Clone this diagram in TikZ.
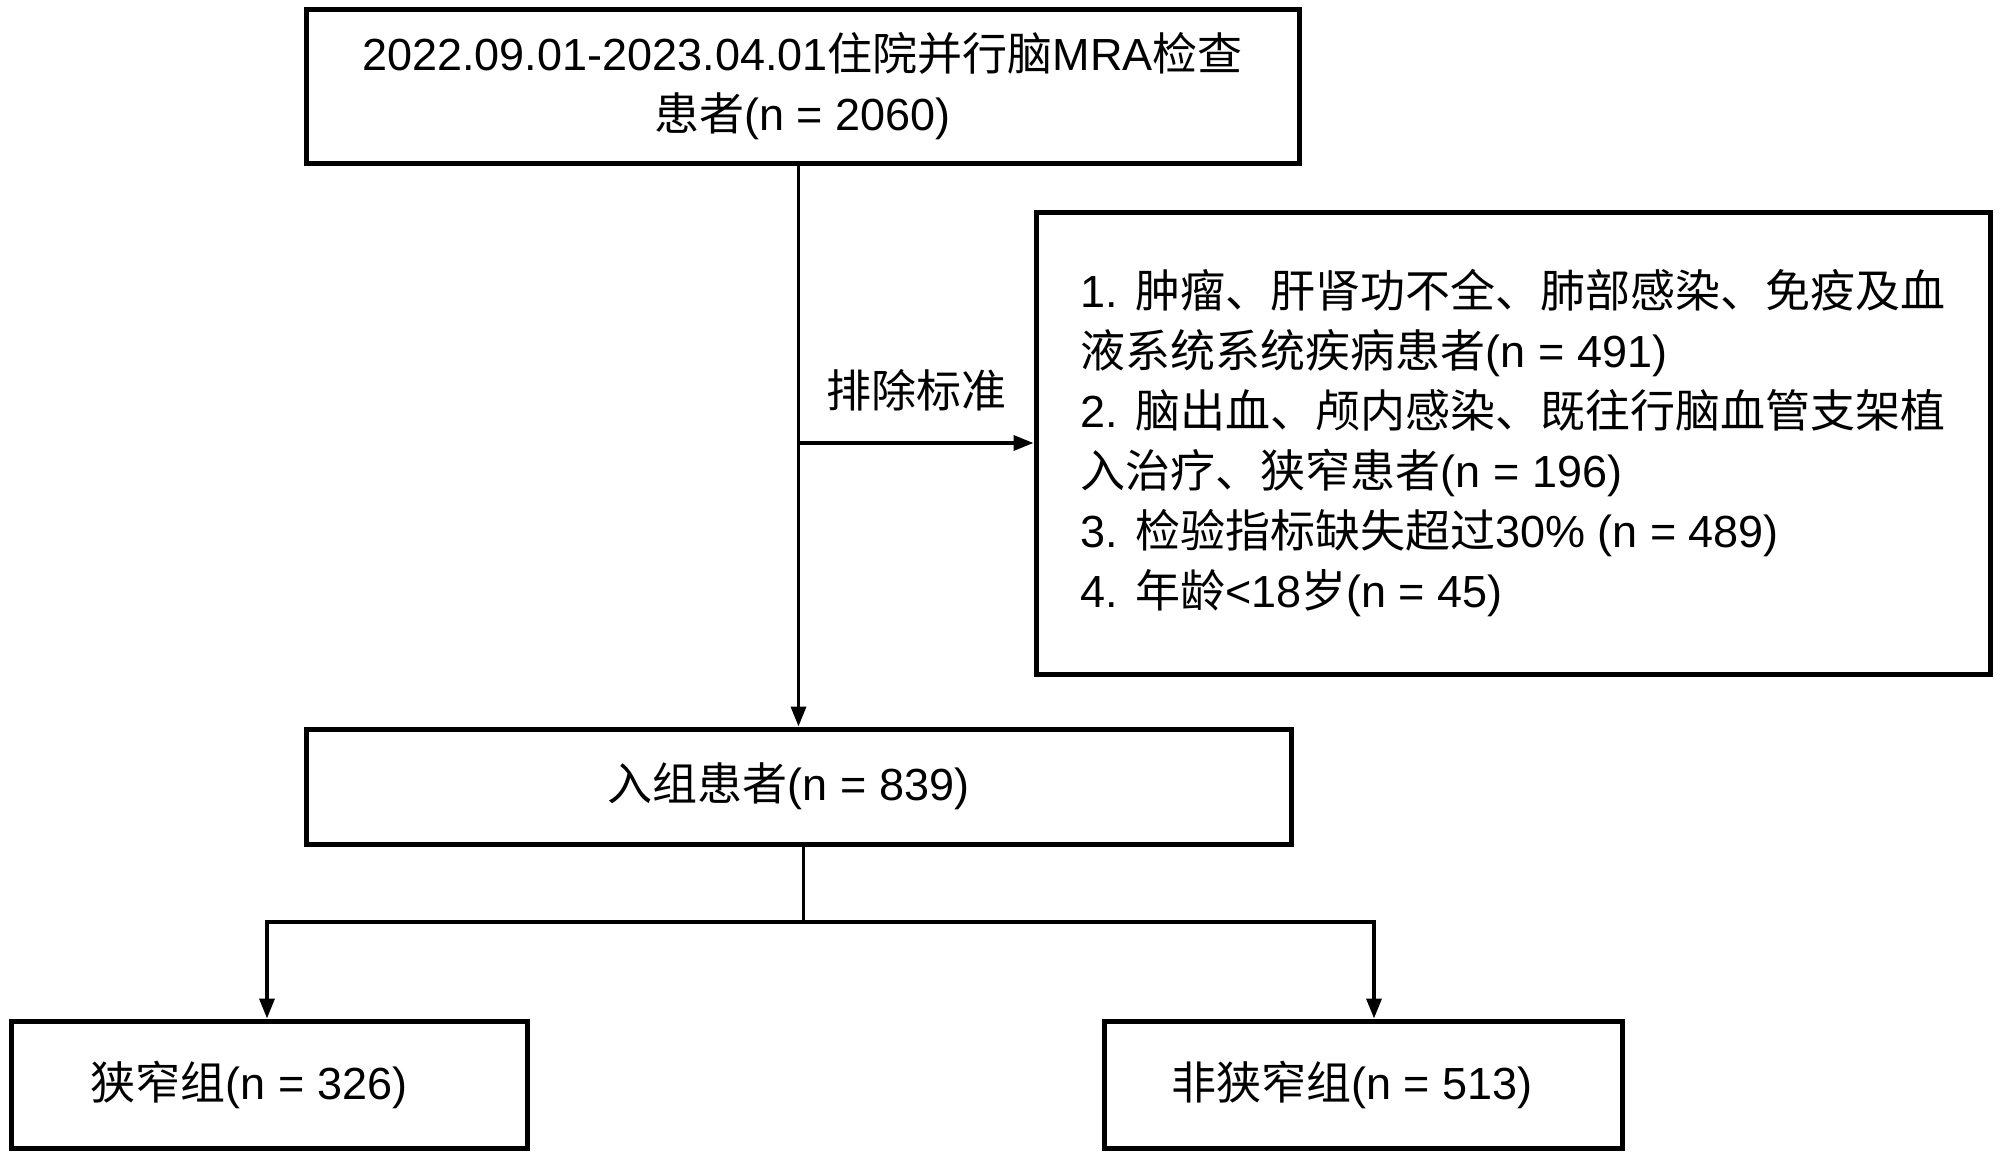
\documentclass[tikz,border=0pt]{standalone}
\usepackage{fontspec}
\setmainfont{Liberation Sans}
\newfontfamily\cjk{Noto Sans CJK SC}
\newcommand{\zh}[1]{{\cjk #1}}
\usetikzlibrary{arrows.meta}
\begin{document}
\begin{tikzpicture}[x=1pt,y=-1pt,
  box/.style={draw, line width=5pt, inner sep=0pt, align=center, font=\fontsize{45}{60}\selectfont},
  lbl/.style={inner sep=0pt, font=\fontsize{45}{60}\selectfont},
  link/.style={line width=3.5pt},
  arr/.style={link, -{Triangle[length=20pt,width=15pt]}}]
\useasboundingbox (0,0) rectangle (2000,1164);
\node[box, minimum width=993pt, minimum height=153pt] (top) at (802.5,86.5)
  {2022.09.01-2023.04.01\zh{住院并行脑}MRA\zh{检查}\\\zh{患者}(n = 2060)};
\node[box, align=left, minimum width=954pt, minimum height=462pt] (excl) at (1513,443)
  {1. \zh{肿瘤、肝肾功不全、肺部感染、免疫及血}\\
   \zh{液系统系统疾病患者}(n = 491)\\
   2. \zh{脑出血、颅内感染、既往行脑血管支架植}\\
   \zh{入治疗、狭窄患者}(n = 196)\\
   3. \zh{检验指标缺失超过}30\% (n = 489)\\
   4. \zh{年龄}<18\zh{岁}(n = 45)};
\node[box, minimum width=985pt, minimum height=115pt] (mid) at (798.5,786.5)
  {\zh{入组患者}(n = 839)\hspace*{20pt}};
\node[box, minimum width=516pt, minimum height=127pt] (lft) at (269,1084.5)
  {\zh{狭窄组}(n = 326)\hspace*{40pt}};
\node[box, minimum width=518pt, minimum height=127pt] (rgt) at (1363,1084.5)
  {\zh{非狭窄组}(n = 513)\hspace*{22pt}};
\node[lbl] (crit) at (916,390) {\zh{排除标准}};
\coordinate (split) at (803.6,922);
\draw[arr] (mid.north |- top.south) -- (mid.north);
\draw[arr] (mid.north |- excl.west) -- (excl.west);
\draw[link] (split |- mid.south) -- (split);
\draw[arr] (split) -| ([xshift=-2pt]lft.north);
\draw[arr] (split) -| ([xshift=11pt]rgt.north);
\end{tikzpicture}
\end{document}
